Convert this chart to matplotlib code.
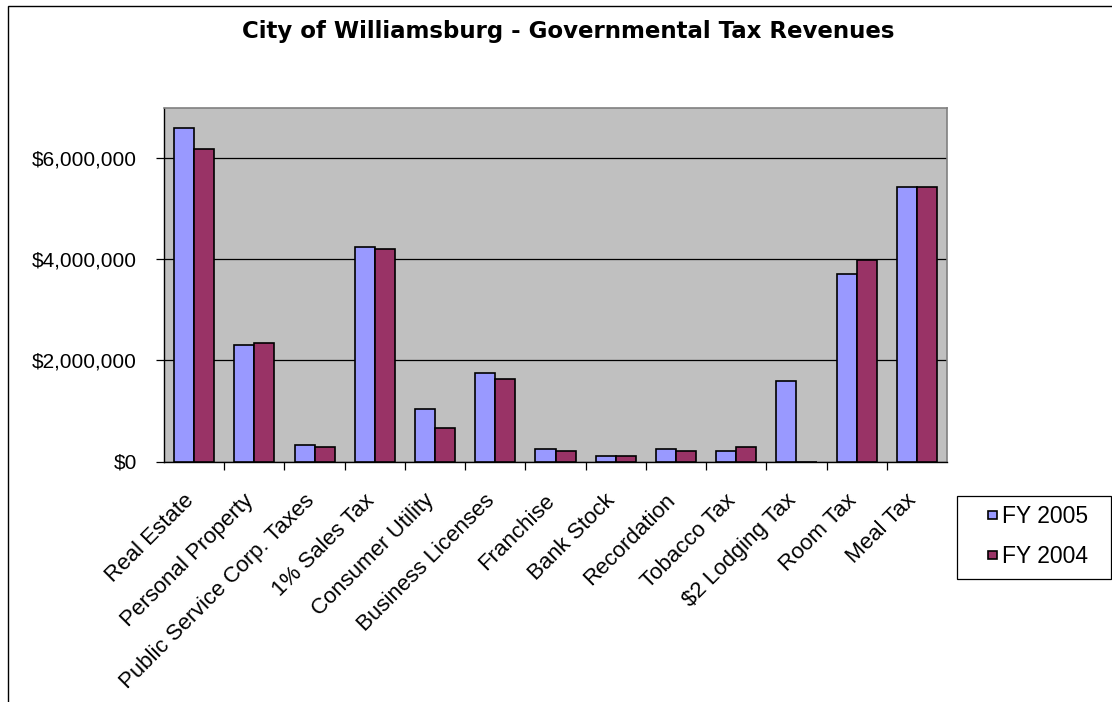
import matplotlib
matplotlib.use("Agg")
import matplotlib.pyplot as plt
import numpy as np
from matplotlib.patches import Rectangle
from matplotlib.ticker import FuncFormatter, FixedLocator
from matplotlib.transforms import ScaledTranslation
from matplotlib.legend_handler import HandlerPatch
from matplotlib.container import BarContainer

plt.rcParams['font.family'] = ['Liberation Sans', 'DejaVu Sans']

categories = ["Real Estate", "Personal Property", "Public Service Corp. Taxes",
              "1% Sales Tax", "Consumer Utility", "Business Licenses", "Franchise",
              "Bank Stock", "Recordation", "Tobacco Tax", "$2 Lodging Tax",
              "Room Tax", "Meal Tax"]
fy2005 = [6600000, 2300000, 320000, 4240000, 1040000, 1750000, 245000,
          110000, 245000, 200000, 1600000, 3700000, 5420000]
fy2004 = [6180000, 2340000, 280000, 4200000, 660000, 1640000, 200000,
          110000, 200000, 280000, 0, 3990000, 5420000]
series_names = ["FY 2005", "FY 2004"]
colors = ["#9999FF", "#993366"]
title = "City of Williamsburg - Governmental Tax Revenues"

W, H = 1112, 702
fig = plt.figure(figsize=(W/100, H/100), dpi=100)
fig.patch.set_facecolor("white")

def fx(px):
    return px / W

def fy(py):
    return 1 - py / H

# outer chart border
fig.add_artist(Rectangle((fx(8), -0.05), 1.2, fy(6) + 0.05,
                         transform=fig.transFigure, fill=False,
                         edgecolor="black", linewidth=1.0))

ax = fig.add_axes([fx(164), fy(461.5), fx(947 - 164), (461.5 - 107.5) / H])
ax.set_facecolor("#C0C0C0")

x = np.arange(len(categories))
w = 1/3
b1 = ax.bar(x - w/2, fy2005, width=w, color=colors[0], edgecolor="black",
            linewidth=1.2, label=series_names[0], zorder=3)
b2 = ax.bar(x + w/2, fy2004, width=w, color=colors[1], edgecolor="black",
            linewidth=1.2, label=series_names[1], zorder=3)

ax.set_xlim(-0.5, len(categories) - 0.5)
ax.set_ylim(0, 7000000)
ax.set_yticks([0, 2000000, 4000000, 6000000])
ax.yaxis.set_major_formatter(FuncFormatter(lambda v, p: "${:,.0f}".format(v)))
ax.grid(axis="y", color="black", linewidth=0.9, zorder=1)
ax.tick_params(axis="y", direction="out", length=6, width=0.9, labelsize=15, pad=13.5)

ax.set_xticks(x)
ax.set_xticklabels(categories, rotation=45, ha="right", va="top",
                   rotation_mode="anchor", fontsize=16)
ax.tick_params(axis="x", which="major", length=0, pad=20.5)
off = ScaledTranslation(-11/100, 0, fig.dpi_scale_trans)
for lab in ax.get_xticklabels():
    lab.set_transform(lab.get_transform() + off)
ax.xaxis.set_minor_locator(FixedLocator(np.arange(0.5, len(categories) - 0.5, 1.0)))
ax.tick_params(axis="x", which="minor", direction="out", length=6, width=0.9)

for s in ["top", "right"]:
    ax.spines[s].set_color("#808080")
    ax.spines[s].set_linewidth(1.2)
for s in ["left", "bottom"]:
    ax.spines[s].set_color("black")
    ax.spines[s].set_linewidth(1.0)
ax.set_axisbelow(True)

fig.text(fx(568), fy(38.3), title, ha="center", va="baseline",
         fontsize=16.5, fontweight="bold", family=["DejaVu Sans"])

# legend frame
fig.add_artist(Rectangle((fx(957), fy(579)), fx(1111 - 957), (579 - 496) / H,
                         transform=fig.transFigure, fill=False,
                         edgecolor="black", linewidth=0.9))


def square_patch(legend, orig_handle, xdescent, ydescent, width, height, fontsize):
    s = 6.0  # points
    return Rectangle((-xdescent + (width - s) / 2, -ydescent + (height - s) / 2), s, s)


def copy_first(legend_handle, orig_handle):
    first = orig_handle[0]
    legend_handle.set_facecolor(first.get_facecolor())
    legend_handle.set_edgecolor("black")
    legend_handle.set_linewidth(1.2)


leg = fig.legend(handles=[b1, b2], labels=series_names,
                 loc="upper left", bbox_to_anchor=(fx(988), fy(505)),
                 frameon=False, fontsize=16.5, handlelength=0.4, handleheight=0.7,
                 handletextpad=0.2, borderpad=0, labelspacing=0.75,
                 borderaxespad=0,
                 handler_map={BarContainer: HandlerPatch(patch_func=square_patch,
                                                         update_func=copy_first)})

fig.savefig("out.png", dpi=100, facecolor="white")
